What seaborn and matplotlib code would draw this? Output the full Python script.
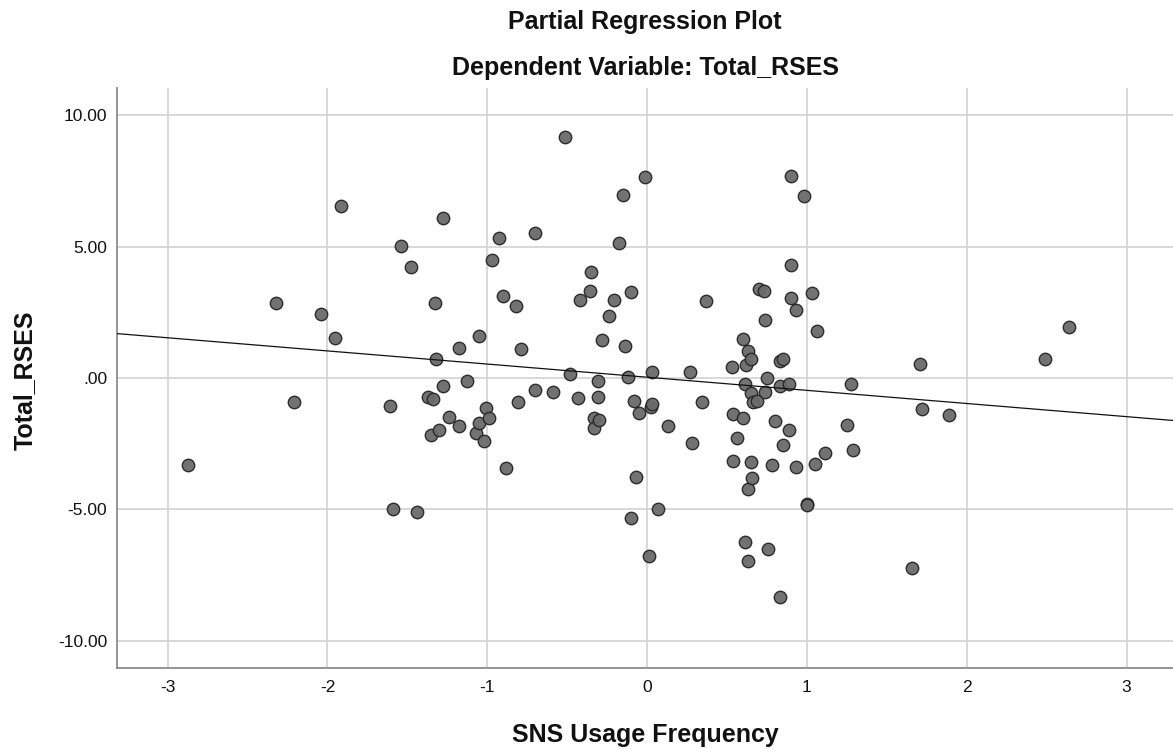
import numpy as np
import pandas as pd
import matplotlib
matplotlib.use("Agg")
import matplotlib.pyplot as plt
import seaborn as sns
from matplotlib.ticker import FuncFormatter, FixedLocator

# Data (residuals)
sns_usage = [
    -2.87, -2.32, -2.21, -2.04, -1.95, -1.915, -1.61, -1.59, -1.54, -1.48,
    -1.44, -1.37, -1.34, -1.35, -1.33, -1.32, -1.30, -1.28, -1.28, -1.24,
    -1.18, -1.18, -1.125, -1.07, -1.05, -1.05, -1.02, -1.01, -0.99, -0.97,
    -0.93, -0.905, -0.885, -0.82, -0.81, -0.79, -0.70, -0.70, -0.59, -0.513,
    -0.48, -0.43, -0.42, -0.355, -0.35, -0.33, -0.33, -0.31, -0.31, -0.30,
    -0.28, -0.24, -0.205, -0.175, -0.15, -0.14, -0.117, -0.10, -0.10, -0.08,
    -0.07, -0.05, -0.013, 0.013, 0.025, 0.033, 0.03, 0.07, 0.13, 0.27,
    0.28, 0.344, 0.37, 0.53, 0.54, 0.54, 0.56, 0.60, 0.60, 0.61,
    0.615, 0.62, 0.63, 0.63, 0.63, 0.65, 0.65, 0.65, 0.655, 0.665,
    0.69, 0.70, 0.73, 0.735, 0.74, 0.75, 0.755, 0.78, 0.80, 0.83,
    0.83, 0.83, 0.85, 0.85, 0.885, 0.89, 0.897, 0.90, 0.90, 0.93,
    0.93, 0.98, 1.00, 1.00, 1.03, 1.05, 1.06, 1.11, 1.25, 1.275,
    1.285, 1.66, 1.71, 1.72, 1.89, 2.49, 2.64,
]
total_rses = [
    -3.30, 2.86, -0.93, 2.42, 1.52, 6.55, -1.08, -4.98, 5.03, 4.23,
    -5.10, -0.71, -0.79, -2.18, 2.84, 0.74, -1.96, 6.07, -0.30, -1.50,
    1.15, -1.84, -0.10, -2.11, 1.60, -1.71, -2.41, -1.14, -1.54, 4.48,
    5.31, 3.10, -3.43, 2.75, -0.93, 1.10, 5.50, -0.45, -0.52, 9.15,
    0.14, -0.76, 2.97, 3.29, 4.05, -1.51, -1.92, -0.13, -0.71, -1.60,
    1.43, 2.36, 2.96, 5.13, 6.97, 1.22, 0.03, 3.28, -5.31, -0.89,
    -3.76, -1.35, 7.65, -6.77, -1.09, -0.99, 0.24, -4.99, -1.82, 0.24,
    -2.46, -0.90, 2.93, 0.41, -1.37, -3.14, -2.27, 1.47, -1.54, -0.24,
    -6.25, 0.50, 1.03, -4.22, -6.97, 0.71, -0.56, -3.18, -3.79, -0.91,
    -0.86, 3.40, 3.30, -0.55, 2.21, -0.01, -6.49, -3.30, -1.64, 0.66,
    -0.29, -8.32, 0.71, -2.53, -1.98, -0.22, 4.28, 7.67, 3.04, 2.59,
    -3.40, 6.91, -4.79, -4.83, 3.25, -3.28, 1.80, -2.85, -1.77, -0.22,
    -2.74, -7.23, 0.54, -1.18, -1.42, 0.71, 1.93,
]

# Fit line of the partial regression plot
fit_intercept = 0.03
fit_slope = -0.50

x_ticks = [-3, -2, -1, 0, 1, 2, 3]
y_ticks = [-10, -5, 0, 5, 10]

title_main = "Partial Regression Plot"
title_sub = "Dependent Variable: Total_RSES"
x_label = "SNS Usage Frequency"
y_label = "Total_RSES"

df = pd.DataFrame({"x": sns_usage, "y": total_rses})

sns.set_theme(style="white")
plt.rcParams["font.family"] = ["Liberation Sans", "DejaVu Sans"]

W, H = 1173, 749
fig = plt.figure(figsize=(W / 100, H / 100), dpi=100)
ax = fig.add_axes([117 / W, (H - 668) / H, (W - 117) / W, (668 - 88) / H])

ax.xaxis.set_major_locator(FixedLocator(x_ticks))
ax.yaxis.set_major_locator(FixedLocator(y_ticks))
ax.grid(True, color="#d2d2d2", linewidth=1.2, zorder=0)
ax.set_axisbelow(True)

sns.scatterplot(data=df, x="x", y="y", ax=ax, s=80, color="#6a6a6a",
                edgecolor="#262626", linewidth=1.0, alpha=0.95, zorder=3)
ax.axline((0, fit_intercept), slope=fit_slope, color="#111111",
          linewidth=0.9, zorder=4)

ax.set_xlim(-3.317, 3.29)
ax.set_ylim(-11.03, 11.03)

for side in ["top", "right"]:
    ax.spines[side].set_visible(False)
for side in ["left", "bottom"]:
    ax.spines[side].set_color("#8c8c8c")
    ax.spines[side].set_linewidth(1.3)

def yfmt(v, pos):
    s = f"{v:.2f}"
    if s in ("0.00", "-0.00"):
        return ".00"
    return s

ax.yaxis.set_major_formatter(FuncFormatter(yfmt))
ax.xaxis.set_major_formatter(FuncFormatter(lambda v, p: f"{int(round(v))}"))
ax.tick_params(axis="both", length=0, labelsize=12.5, colors="#111111")
ax.tick_params(axis="y", pad=7)
ax.tick_params(axis="x", pad=9)

ax.set_xlabel("")
ax.set_ylabel("")

fig.text(645 / W, 1 - 29 / H, title_main, ha="center", va="baseline",
         fontsize=18, fontweight="bold", color="#111111")
fig.text(645 / W, 1 - 75 / H, title_sub, ha="center", va="baseline",
         fontsize=18, fontweight="bold", color="#111111")
fig.text(645 / W, 1 - 735 / H, x_label, ha="center", va="center",
         fontsize=18, fontweight="bold", color="#111111")
fig.text(25 / W, 1 - 380 / H, y_label, ha="center", va="center",
         rotation=90, fontsize=18, fontweight="bold", color="#111111")

fig.savefig("out.png", dpi=100)
